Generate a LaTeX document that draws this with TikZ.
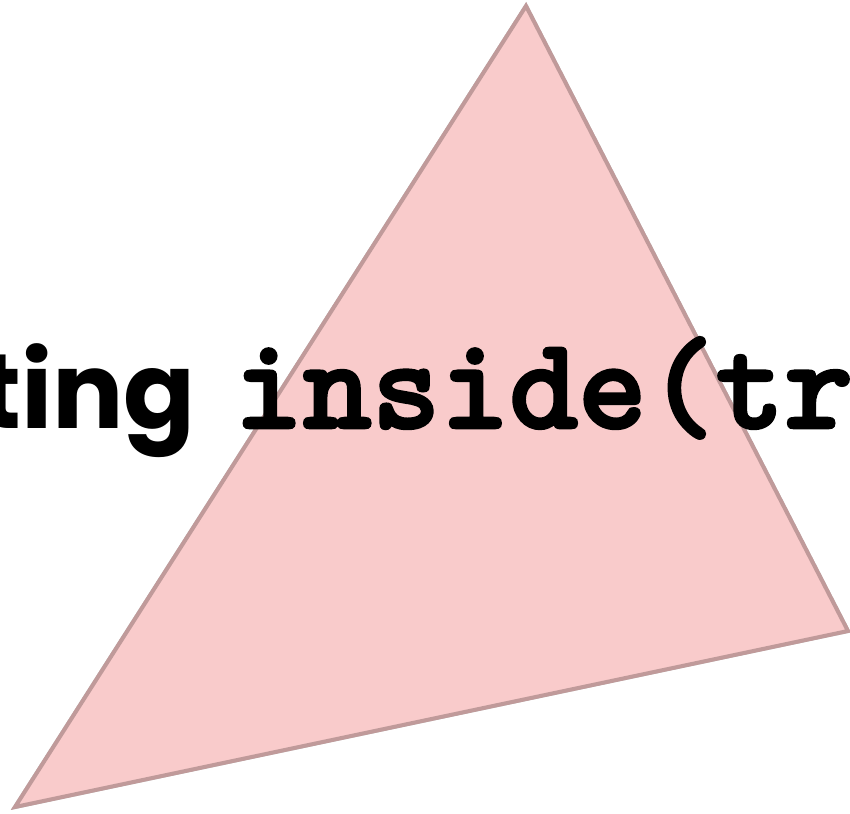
\documentclass[tikz,border=0pt]{standalone}
\usepackage{fontspec}
\newfontfamily\wordfont{Poppins}[BoldFont={Poppins Bold}]
\newfontfamily\codefont{lmmonolt10-bold.otf}[FakeBold=2.2]
\definecolor{triFill}{HTML}{F9CBCB}
\definecolor{triEdge}{HTML}{C09A9A}
\definecolor{triShade}{HTML}{C2C2C2}
\tikzset{
  tri/.style={fill=triFill, draw=triEdge, line width=4pt, line join=miter},
  trishade/.style={draw=triShade, line width=4pt, line join=miter},
  label text/.style={inner sep=0pt, text=black}
}
\begin{document}
\begin{tikzpicture}[x=1pt, y=-1pt, line cap=round]
	\useasboundingbox (0,0) rectangle (850,813);
	\clip (0,0) rectangle (850,813);
	\path (526,6) coordinate (A)
	(15,807) coordinate (B)
	(848,631) coordinate (C);
	% soft shadow, then the triangle itself
	\draw[trishade, shift={(0,2.5)}] (A) -- (B) -- (C) -- cycle;
	\draw[tri] (A) -- (B) -- (C) -- cycle;
	\node[label text, anchor=base west] (code) at (234,428)
	{\fontsize{131}{131}\selectfont\codefont inside(tr};
	\node[label text, anchor=base east] (word) at (196,428)
	{\fontsize{106}{106}\selectfont\wordfont\bfseries ting};
\end{tikzpicture}
\end{document}
